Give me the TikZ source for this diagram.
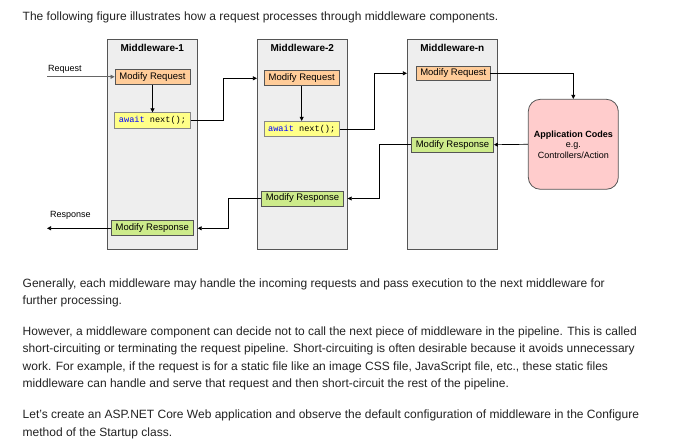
\documentclass[tikz,border=0pt]{standalone}
\usepackage{fontspec}
\setmainfont{Liberation Sans}
\setmonofont{Liberation Mono}
\usetikzlibrary{positioning,arrows.meta}

\definecolor{mwfill}{HTML}{EEEEEE}
\definecolor{reqfill}{HTML}{FFCC99}
\definecolor{awfill}{HTML}{FFFF88}
\definecolor{resfill}{HTML}{CDEB8B}
\definecolor{appfill}{HTML}{FFCCCC}
\definecolor{edge}{HTML}{555555}
\definecolor{kw}{HTML}{0000FF}
\definecolor{bodytext}{HTML}{222222}

\begin{document}
\begin{tikzpicture}[x=1pt,y=-1pt,
	>={Triangle[length=4pt,width=4pt]},
	mwbox/.style={draw=edge,fill=mwfill,line width=.8pt,minimum width=90pt,minimum height=210pt},
	mwtitle/.style={font=\fontsize{10}{12}\selectfont\bfseries,inner sep=0pt},
	reqbox/.style={draw=edge,fill=reqfill,line width=.8pt,minimum width=75pt,minimum height=15pt,inner sep=1pt,font=\fontsize{9.5}{11}\selectfont},
	awbox/.style={draw=edge!70,fill=awfill,line width=.8pt,minimum width=75.6pt,minimum height=15.5pt,inner sep=1pt,font=\fontsize{8.6}{10}\ttfamily},
	resbox/.style={draw=edge,fill=resfill,line width=.8pt,minimum width=82pt,minimum height=15pt,inner sep=1pt,font=\fontsize{9.5}{11}\selectfont},
	appbox/.style={draw=edge,fill=appfill,line width=.8pt,rounded corners=12pt,minimum width=90pt,minimum height=90pt,align=center,font=\fontsize{9}{10.5}\selectfont},
	lbl/.style={inner sep=0pt,anchor=west,font=\fontsize{9}{11}\selectfont},
	para/.style={inner sep=0pt,anchor=north west,align=left,text=bodytext,font=\fontsize{12}{17.6}\selectfont},
	flow/.style={->,line width=.7pt}]

	\useasboundingbox (0,0) rectangle (680,443);

	% text above the figure
	\node[para,anchor=west] (intro) at (22.5,17.3) {The following figure illustrates how a request processes through middleware components.};

	% middleware columns
	\node[mwbox] (mw1) at (152.3,144.3) {};
	\node[mwbox] (mw2) at (302.3,144.3) {};
	\node[mwbox] (mwn) at (452.3,144.3) {};

	\node[mwtitle] (t1) at (152.3,48.3) {Middleware-1};
	\node[mwtitle] (t2) at (302.3,48.3) {Middleware-2};
	\node[mwtitle] (tn) at (452.3,48.3) {Middleware-n};

	\node[reqbox] (mr1) at (152.5,76.8) {Modify Request};
	\node[awbox,below=27.7pt of mr1] (aw1) {\textcolor{kw}{await} next();};
	\node[resbox] (rs1) at (152.3,228.3) {Modify Response};

	\node[reqbox] (mr2) at (301.7,78.3) {Modify Request};
	\node[awbox,below=34.7pt of mr2] (aw2) {\textcolor{kw}{await} next();};
	\node[resbox] (rs2) at (302.5,198.5) {Modify Response};

	\node[reqbox,minimum width=73.3pt,minimum height=13.3pt] (mrn) at (453.3,73.3) {Modify Request};
	\node[resbox] (rsn) at (452.5,144.7) {Modify Response};

	\node[appbox] (app) at (573.3,144.3) {\textbf{Application Codes}\\e.g.\\Controllers/Action};

	% request / response ends
	\node[lbl] (req) at (48,69.3) {Request};
	\node[lbl] (res) at (50,215.3) {Response};
	\coordinate (reqin) at (47,76.8);
	\coordinate (resout) at (47,228.3);

	% request path
	\draw[flow,draw=black!60] (reqin) -- (mr1.west);
	\draw[flow] (mr1) -- (aw1);
	\draw[flow] (aw1.east) -- ++(33,0) |- (mw2.west |- mr2);
	\draw[flow] (mr2) -- (aw2);
	\draw[flow] (aw2.east) -- ++(34.3,0) |- (mwn.west |- mrn);
	\draw[flow] (mrn.east) -| (app.north);

	% response path
	\draw[flow] (app.west) -- (rsn.east);
	\draw[flow] (rsn.west) -- ++(-31.7,0) |- (mw2.east |- rs2);
	\draw[flow] (rs2.west) -- ++(-32.4,0) |- (mw1.east |- rs1);
	\draw[flow] (rs1.west) -- (resout);

	% text below the figure
	\node[para] (p1) at (22.5,278.3) {Generally, each middleware may handle the incoming requests and pass execution to the next middleware for\\further processing.};
	\node[para] (p2) at (22.5,326.3) {However, a middleware component can decide not to call the next piece of middleware in the pipeline. This is called\\short-circuiting or terminating the request pipeline. Short-circuiting is often desirable because it avoids unnecessary\\work. For example, if the request is for a static file like an image CSS file, JavaScript file, etc., these static files\\middleware can handle and serve that request and then short-circuit the rest of the pipeline.};
	\node[para] (p3) at (22.5,409.6) {Let’s create an ASP.NET Core Web application and observe the default configuration of middleware in the Configure\\method of the Startup class.};
\end{tikzpicture}
\end{document}
